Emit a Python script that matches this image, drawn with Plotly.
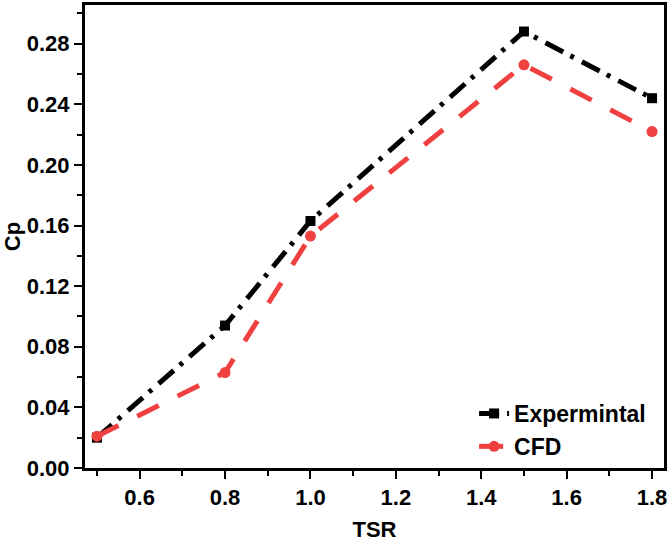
import plotly.graph_objects as go

tsr = [0.5, 0.8, 1.0, 1.5, 1.8]
cp_exp = [0.020, 0.094, 0.163, 0.288, 0.244]
cp_cfd = [0.021, 0.063, 0.153, 0.266, 0.222]

fig = go.Figure()
fig.add_trace(go.Scatter(x=tsr, y=cp_exp, mode="lines+markers", name="<b>Expermintal</b>",
                         line=dict(color="black", width=5, dash="20px,8px,4px,9px"),
                         marker=dict(symbol="square", size=10, color="black")))
fig.add_trace(go.Scatter(x=tsr, y=cp_cfd, mode="lines+markers", name="<b>CFD</b>",
                         line=dict(color="#F04040", width=5, dash="24px,21px"),
                         marker=dict(symbol="circle", size=11, color="#F04040")))

font = dict(family="Liberation Sans, Arial", size=22, color="black")
fig.update_layout(
    width=669, height=542,
    margin=dict(l=85, r=3, t=2, b=72),
    plot_bgcolor="white", paper_bgcolor="white",
    font=font,
    showlegend=True,
    legend=dict(x=0.672, y=0.0, xanchor="left", yanchor="bottom",
                bgcolor="rgba(0,0,0,0)", font=dict(family="Liberation Sans, Arial", size=23, color="black"),
                tracegroupgap=0),
)
fig.update_xaxes(range=[0.472, 1.828], tickvals=[0.6, 0.8, 1.0, 1.2, 1.4, 1.6, 1.8],
                 ticktext=["<b>0.6</b>", "<b>0.8</b>", "<b>1.0</b>", "<b>1.2</b>", "<b>1.4</b>", "<b>1.6</b>", "<b>1.8</b>"],
                 tickfont=dict(size=22),
                 ticks="outside", ticklen=8, tickwidth=2, tickcolor="black",
                 minor=dict(tickvals=[0.5, 0.7, 0.9, 1.1, 1.3, 1.5, 1.7], ticks="outside", ticklen=5, tickwidth=2, tickcolor="black"),
                 showline=True, linewidth=3, linecolor="black", mirror=True, showgrid=False, zeroline=False,
                 title=dict(text="<b>TSR</b>", font=dict(size=22), standoff=14))
yt = [0.00, 0.04, 0.08, 0.12, 0.16, 0.20, 0.24, 0.28]
fig.update_yaxes(range=[0, 0.3055], tickvals=yt, ticktext=["<b>%.2f</b>" % v for v in yt],
                 tickfont=dict(size=22),
                 ticks="outside", ticklen=8, tickwidth=2, tickcolor="black",
                 minor=dict(tickvals=[0.02, 0.06, 0.10, 0.14, 0.18, 0.22, 0.26, 0.30], ticks="outside", ticklen=5, tickwidth=2, tickcolor="black"),
                 showline=True, linewidth=3, linecolor="black", mirror=True, showgrid=False, zeroline=False,
                 title=dict(text="<b>Cp</b>", font=dict(size=22), standoff=3))

fig.write_html("out.html")
